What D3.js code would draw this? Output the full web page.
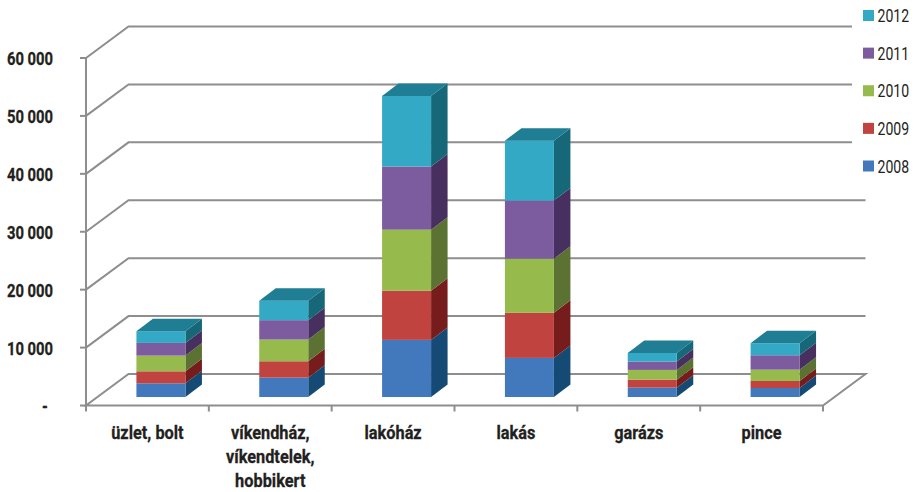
<!DOCTYPE html>
<html><head><meta charset="utf-8">
<script src="https://cdn.jsdelivr.net/npm/d3@7"></script>
<style>html,body{margin:0;padding:0;background:#fff}svg{display:block}
text{font-family:"Roboto",sans-serif;fill:#231f20}</style></head><body>
<svg id="c" width="916" height="492"></svg>
<script>
const categories=["üzlet, bolt","víkendház,\nvíkendtelek,\nhobbikert","lakóház","lakás","garázs","pince"];
const years=["2008","2009","2010","2011","2012"];
const v2008=[2360,3345,9860,6750,1615,1555];
const v2009=[2075,2825,8480,7785,1385,1210];
const v2010=[2710,3750,10550,9340,1675,1960];
const v2011=[2190,3345,10900,10035,1440,2480];
const v2012=[2020,3345,12200,10350,1500,2075];
const yTicks=[0,10000,20000,30000,40000,50000,60000];
const tickLabels=["-","10 000","20 000","30 000","40 000","50 000","60 000"];
const front=["#4279bd","#c0433f","#97ba4c","#7c5b9e","#33a9c5"];
const side=["#154a75","#771c1c","#5b7233","#472f5f","#166878"];
const top5="#1f7d94";
const series=[v2008,v2009,v2010,v2011,v2012];

const svg=d3.select("#c");
const x=d3.scaleBand().domain(d3.range(categories.length)).range([86,823]);
const y=d3.scaleLinear().domain([0,60000]).range([405.5,58]);
const dx=42.5,dy=-31.5;
const bx=16.5,by=-12.5;
const barFrontX=13.5,barFrontY=-8.5;
const barW=49;
const grid="#8e8e8e";
const pts=a=>a.map(p=>p.join(",")).join(" ");

svg.append("polygon").attr("points",pts([[86,y(0)],[823,y(0)],[823+dx,y(0)+dy],[86+dx,y(0)+dy]]))
  .attr("fill","none").attr("stroke",grid).attr("stroke-width",2);
svg.append("g").selectAll("polyline").data(yTicks.slice(1)).join("polyline")
  .attr("points",d=>pts([[86,y(d)],[86+dx,y(d)+dy],[823+dx,y(d)+dy]]))
  .attr("fill","none").attr("stroke",grid).attr("stroke-width",2);
svg.append("line").attr("x1",86).attr("x2",86).attr("y1",y(60000)).attr("y2",y(0)).attr("stroke",grid).attr("stroke-width",2);
svg.append("g").selectAll("line").data(yTicks).join("line")
  .attr("x1",80).attr("x2",86).attr("y1",d=>y(d)).attr("y2",d=>y(d)).attr("stroke",grid).attr("stroke-width",2);
svg.append("g").selectAll("line").data(d3.range(categories.length+1)).join("line")
  .attr("x1",i=>86+i*x.bandwidth()).attr("x2",i=>86+i*x.bandwidth()).attr("y1",y(0)).attr("y2",y(0)+6).attr("stroke",grid).attr("stroke-width",2);

svg.append("rect").attr("x",852).attr("y",0).attr("width",64).attr("height",190).attr("fill","#fff");

svg.append("g").selectAll("text").data(yTicks).join("text")
  .attr("transform",(d,i)=>`translate(${i?30:45},${y(d)+7}) scale(.78,1)`).attr("text-anchor","middle")
  .attr("font-size",19).attr("font-weight",700).attr("stroke","#231f20").attr("stroke-width",.3).text((d,i)=>tickLabels[i]);

const scaleH=v=>y(0)-y(v);
categories.forEach((c,i)=>{
  const g=svg.append("g");
  const left=x(i)+(x.bandwidth()-barW)/2+barFrontX, base=y(0)+barFrontY;
  let cum=0;
  series.forEach((s,k)=>{
    const y0=base-scaleH(cum), y1=base-scaleH(cum+s[i]);
    g.append("polygon").attr("points",pts([[left+barW,y0],[left+barW+bx,y0+by],[left+barW+bx,y1+by],[left+barW,y1]])).attr("fill",side[k]);
    g.append("rect").attr("x",left).attr("y",y1).attr("width",barW).attr("height",y0-y1).attr("fill",front[k]);
    cum+=s[i];
  });
  const t=base-scaleH(cum);
  g.append("polygon").attr("points",pts([[left,t],[left+barW,t],[left+barW+bx,t+by],[left+bx,t+by]])).attr("fill",top5);
  c.split("\n").forEach((ln,j)=>{
    svg.append("text").attr("transform",`translate(${x(i)+x.bandwidth()/2},${439+j*24}) scale(.86,1)`).attr("text-anchor","middle")
      .attr("font-size",19).attr("font-weight",700).attr("stroke","#231f20").attr("stroke-width",.3).text(ln);
  });
});

const ly=d3.scalePoint().domain(years.slice().reverse()).range([15.5,166]);
const lg=svg.append("g").selectAll("g").data(years).join("g");
lg.append("rect").attr("x",863).attr("y",d=>ly(d)-5.5).attr("width",11).attr("height",11).attr("fill",(d,i)=>front[i]);
lg.append("text").attr("transform",d=>`translate(877.5,${ly(d)+6.5}) scale(.76,1)`).attr("font-size",18.5).text(d=>d);
</script></body></html>
